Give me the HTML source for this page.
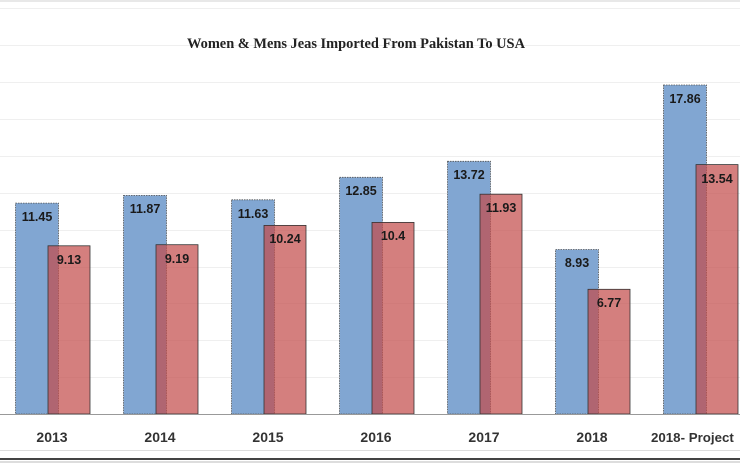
<!DOCTYPE html><html><head><style>body{margin:0;background:#fff}svg{display:block}</style></head><body>
<svg width="740" height="463" xmlns="http://www.w3.org/2000/svg" font-family="Liberation Sans, sans-serif">
<rect width="740" height="463" fill="#fff"/>
<line x1="0" y1="1" x2="740" y2="1" stroke="#d0d0d0"/>
<g stroke="#efefef" stroke-width="1">
<line x1="0" y1="8.5" x2="740" y2="8.5"/><line x1="0" y1="45.5" x2="740" y2="45.5"/><line x1="0" y1="82.5" x2="740" y2="82.5"/><line x1="0" y1="119.5" x2="740" y2="119.5"/><line x1="0" y1="156.5" x2="740" y2="156.5"/><line x1="0" y1="193.5" x2="740" y2="193.5"/><line x1="0" y1="230.5" x2="740" y2="230.5"/><line x1="0" y1="267.5" x2="740" y2="267.5"/><line x1="0" y1="303.5" x2="740" y2="303.5"/><line x1="0" y1="340.5" x2="740" y2="340.5"/><line x1="0" y1="377.5" x2="740" y2="377.5"/>
</g>
<text x="356" y="48" text-anchor="middle" font-family="Liberation Serif, serif" font-weight="bold" font-size="14.4" fill="#222">Women &amp; Mens Jeas Imported From Pakistan To USA</text>
<g stroke-width="0.8">
<g fill="#81a6d2" stroke="#555" stroke-dasharray="1.5,1">
<rect x="15.5" y="203.1" width="43" height="210.9"/>
<rect x="123.5" y="195.4" width="43" height="218.6"/>
<rect x="231.5" y="199.8" width="43" height="214.2"/>
<rect x="339.5" y="177.3" width="43" height="236.7"/>
<rect x="447.5" y="161.3" width="43" height="252.7"/>
<rect x="555.5" y="249.5" width="43" height="164.5"/>
<rect x="663.5" y="85" width="43" height="329"/>
</g>
<g fill="rgba(195,76,74,0.714)" stroke="#333">
<rect x="48" y="245.8" width="42" height="168.2"/>
<rect x="156" y="244.7" width="42" height="169.3"/>
<rect x="264" y="225.4" width="42" height="188.6"/>
<rect x="372" y="222.4" width="42" height="191.6"/>
<rect x="480" y="194.2" width="42" height="219.8"/>
<rect x="588" y="289.3" width="42" height="124.7"/>
<rect x="696" y="164.6" width="42" height="249.4"/>
</g>
</g>
<g font-weight="bold" font-size="12.5" fill="#1a1a1a" text-anchor="middle">
<text x="37" y="221">11.45</text><text x="69" y="264">9.13</text>
<text x="145" y="213">11.87</text><text x="177" y="263">9.19</text>
<text x="253" y="218">11.63</text><text x="285" y="243">10.24</text>
<text x="361" y="195">12.85</text><text x="393" y="240">10.4</text>
<text x="469" y="179">13.72</text><text x="501" y="212">11.93</text>
<text x="577" y="267">8.93</text><text x="609" y="307">6.77</text>
<text x="685" y="103">17.86</text><text x="717" y="183">13.54</text>
</g>
<line x1="0" y1="414.5" x2="740" y2="414.5" stroke="#999"/>
<line x1="0" y1="450.5" x2="740" y2="450.5" stroke="#ddd"/>
<line x1="0" y1="459" x2="740" y2="459" stroke="#444" stroke-width="2"/>
<line x1="0" y1="462" x2="740" y2="462" stroke="#bbb" stroke-width="1"/>
<g font-weight="bold" font-size="14" fill="#333" text-anchor="middle">
<text x="52" y="442">2013</text><text x="160" y="442">2014</text><text x="268" y="442">2015</text><text x="376" y="442">2016</text><text x="484" y="442">2017</text><text x="592" y="442">2018</text>
</g>
<text x="651" y="442" font-weight="bold" font-size="13.3" fill="#333">2018- Project</text>
</svg></body></html>
